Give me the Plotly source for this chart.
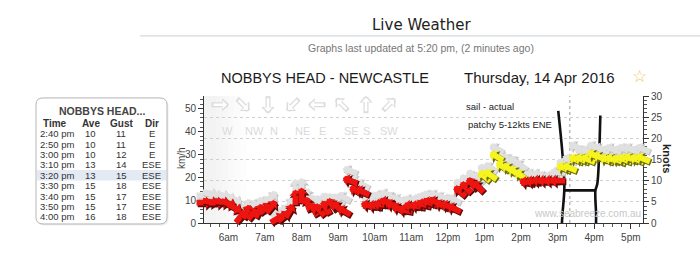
import math
import pandas as pd
import plotly.graph_objects as go

# ---------------- data ----------------
times = pd.date_range("2016-04-14 05:20", "2016-04-14 17:20", freq="10min")

avg_kts = [4.8, 5.0, 4.8, 4.9, 4.6, 3.6, 1.5, 2.6, 2.2, 2.8,
           3.4, 3.8, 1.0, 1.5, 2.8, 6.0, 6.5, 4.4, 3.2, 3.0,
           3.6, 4.3, 3.7, 2.8, 10.0, 7.6, 7.4, 4.2, 4.0, 4.4,
           5.0, 4.2, 3.4, 3.0, 4.0, 4.0, 4.4, 4.8, 5.0, 4.2,
           4.0, 3.4, 7.4, 8.3, 9.2, 8.5, 11.0, 11.3, 15.7, 13.3,
           12.8, 12.0, 11.2, 9.6, 9.8, 10.0, 10.0, 10.0, 10.0, 13.0,
           13.0, 15.0, 15.0, 15.0, 16.0, 15.5, 15.0, 15.0, 14.8, 15.0,
           15.2, 15.0, 15.2]

gust_kts = [6.5, 7.0, 6.5, 6.5, 6.0, 5.5, 3.0, 4.0, 4.0, 4.5,
            5.0, 6.0, 2.5, 3.0, 4.5, 8.5, 8.8, 6.5, 5.0, 5.0,
            5.5, 5.5, 5.5, 6.0, 12.3, 9.8, 9.0, 6.0, 6.0, 6.5,
            6.8, 6.0, 5.5, 5.0, 5.5, 5.5, 6.0, 6.5, 6.5, 6.0,
            5.5, 5.5, 9.0, 10.0, 11.0, 10.5, 12.5, 13.0, 17.5, 15.5,
            15.0, 14.5, 13.5, 11.5, 11.5, 11.5, 11.0, 11.0, 12.0, 14.0,
            15.0, 18.0, 17.0, 17.0, 18.0, 17.5, 17.0, 17.5, 17.0, 17.5,
            17.5, 17.0, 17.5]

# wind direction (degrees the wind blows FROM)
dir_from = [270, 280, 270, 280, 290, 300, 220, 210, 220, 210,
            230, 220, 240, 230, 210, 180, 180, 160, 150, 140,
            150, 140, 130, 120, 110, 120, 115, 100, 100, 95,
            100, 105, 110, 100, 95, 100, 105, 110, 110, 115,
            110, 115, 130, 135, 140, 135, 130, 125, 120, 125,
            125, 130, 125, 100, 95, 95, 90, 90, 90, 112,
            112, 112, 112, 112, 112, 112, 112, 110, 112, 112,
            110, 112, 112]

yellow_above_kts = 10.5

tick_hours = list(range(6, 18))
tick_text = ["6am", "7am", "8am", "9am", "10am", "11am", "12pm",
             "1pm", "2pm", "3pm", "4pm", "5pm"]

legend_dirs = ["W", "NW", "N", "NE", "E", "SE", "S", "SW"]
legend_from = [270, 315, 0, 45, 90, 135, 180, 225]

table_time = ["2:40 pm", "2:50 pm", "3:00 pm", "3:10 pm", "3:20 pm",
              "3:30 pm", "3:40 pm", "3:50 pm", "4:00 pm"]
table_ave = [10, 10, 10, 13, 13, 15, 15, 15, 16]
table_gust = [11, 11, 12, 14, 15, 18, 17, 17, 18]
table_dir = ["E", "E", "E", "ESE", "ESE", "ESE", "ESE", "ESE", "ESE"]
table_selected = "3:20 pm"
now_marker = "2016-04-14 15:20"

# hand-drawn "sail - actual" marks (time, knots)
mark1_t = ["15:01", "15:04", "15:08", "15:11", "15:08", "15:07"]
mark1_k = [26.5, 22.3, 16.1, 8.4, 2.3, 0.0]
mark2_t = ["16:10", "16:08", "16:05", "16:02", "16:03", "16:03"]
mark2_k = [25.4, 16.1, 9.2, 7.7, 2.3, 0.0]
mark3_t = ["15:09", "16:02"]
mark3_k = [7.7, 7.7]

KMH_PER_KT = 1.852

# ---------------- layout geometry ----------------
W, H = 700, 255
LM, RM, TM, BM = 204, 57, 96, 28
PW, PH = W - LM - RM, H - TM - BM


def px(x):
    return (x - LM) / PW


def py(y):
    return (H - BM - y) / PH


def day(hm):
    return "2016-04-14 " + hm


FONT = "Liberation Sans, Arial, sans-serif"

fig = go.Figure()

# invisible traces that bind the data to the axes
fig.add_trace(go.Scatter(x=times, y=avg_kts, mode="markers",
                         marker=dict(opacity=0), hoverinfo="skip",
                         showlegend=False, yaxis="y"))
fig.add_trace(go.Scatter(x=times, y=[v * KMH_PER_KT for v in avg_kts],
                         mode="markers", marker=dict(opacity=0),
                         hoverinfo="skip", showlegend=False, yaxis="y2"))

# hand-drawn marks
for mt, mk in ((mark1_t, mark1_k), (mark2_t, mark2_k), (mark3_t, mark3_k)):
    fig.add_trace(go.Scatter(x=[day(t) for t in mt], y=mk, mode="lines",
                             line=dict(color="#111", width=2.6,
                                       shape="spline"),
                             cliponaxis=False, hoverinfo="skip",
                             showlegend=False, yaxis="y"))

annotations = []


def arrow(x, y, to_deg, L, width, size, color, dx=0.0, dy=0.0,
          xref="x", yref="y"):
    a = math.radians(to_deg)
    s, c = math.sin(a), math.cos(a)
    return dict(x=x, y=y, xref=xref, yref=yref, text="", showarrow=True,
                arrowhead=1, arrowsize=size, arrowwidth=width,
                arrowcolor=color, ax=-L * s, ay=L * c,
                xshift=L / 2 * s + dx, yshift=L / 2 * c + dy,
                standoff=0, startstandoff=0, font=dict(size=1),
                borderpad=0)


# gust arrows (grey, behind)
for t, g, d in zip(times, gust_kts, dir_from):
    to = (d + 180) % 360
    annotations.append(arrow(t, g, to, 16, 6.4, 0.35, "#c2c2c2", 1.0, -1.0))
    annotations.append(arrow(t, g, to, 16, 5.8, 0.35, "#e0e0e0"))
# average arrows (red / yellow)
for t, v, d in zip(times, avg_kts, dir_from):
    to = (d + 180) % 360
    yellow = v > yellow_above_kts
    shadow = "#6b6b10" if yellow else "#5c0a0a"
    fill = "#f6f41e" if yellow else "#ee1410"
    annotations.append(arrow(t, v, to, 16, 6.6, 0.35, shadow, 1.2, -1.2))
    annotations.append(arrow(t, v, to, 16, 5.8, 0.35, fill))

# direction legend (outlined arrows)
leg_x = [220, 243, 268, 293, 317, 342, 366, 389]
for lx, name, d in zip(leg_x, legend_dirs, legend_from):
    to = (d + 180) % 360
    annotations.append(arrow(px(lx), py(105), to, 18, 5, 0.45, "#dcdcdc",
                             xref="paper", yref="paper"))
    annotations.append(arrow(px(lx), py(105), to, 14, 2.6, 0.55, "#ffffff",
                             xref="paper", yref="paper"))
    annotations.append(dict(x=px(lx), y=py(124), xref="paper", yref="paper",
                            text=name, showarrow=False,
                            font=dict(family=FONT, size=11, color="#dadada")))


# titles and texts
def text(x, y, s, size, color="#222", bold=False, angle=0, family=FONT,
         xanchor="center"):
    if bold:
        s = "<b>" + s + "</b>"
    return dict(x=px(x), y=py(y), xref="paper", yref="paper", text=s,
                showarrow=False, textangle=angle, xanchor=xanchor,
                yanchor="middle", font=dict(family=family, size=size,
                                            color=color))


annotations += [
    text(421, 23, "Live Weather", 15, "#222", family="DejaVu Sans, sans-serif"),
    text(421, 47, "Graphs last updated at 5:20 pm, (2 minutes ago)", 10.5,
         "#777"),
    text(325, 77, "NOBBYS HEAD - NEWCASTLE", 14.5, "#1a1a1a"),
    text(539, 77, "Thursday, 14 Apr 2016", 15, "#1a1a1a"),
    text(639, 75, "☆", 17, "#f2c66d", family="DejaVu Sans, sans-serif"),
    text(181, 160, "km/h", 10, "#444", angle=-90),
    text(667, 160, "knots", 11, "#222", bold=True, angle=90),
    text(490, 107, "sail - actual", 9.5, "#222"),
    text(510, 125, "patchy 5-12kts ENE", 9.5, "#222"),
    text(587, 217, "www.seabreeze.com.au", 10, "#c8c8c8"),
]

# table
table_x_time, table_x_ave, table_x_gust, table_x_dir = 38, 91, 121, 151.5
row_y0, row_dy = 135, 10.7
annotations.append(text(102, 111, "NOBBYS HEAD...", 10.5, "#444", bold=True))
for hx, h in zip([55, table_x_ave, table_x_gust, table_x_dir],
                 ["Time", "Ave", "Gust", "Dir"]):
    annotations.append(text(hx, 124.5, h, 10, "#333", bold=True))
for i, (tt, a, g, dd) in enumerate(zip(table_time, table_ave, table_gust,
                                       table_dir)):
    ry = row_y0 + i * row_dy
    annotations.append(text(table_x_time, ry, tt, 9.5, "#333",
                            xanchor="left"))
    annotations.append(text(table_x_ave, ry, str(a), 9.5, "#333"))
    annotations.append(text(table_x_gust, ry, str(g), 9.5, "#333"))
    annotations.append(text(table_x_dir, ry, dd, 9.5, "#333"))

shapes = []
# faint night shading at the left of the plot
for end in ["06:30", "06:20", "06:10", "06:00", "05:50", "05:40"]:
    shapes.append(dict(type="rect", xref="x", yref="paper",
                       x0=times[0], x1=day(end), y0=0, y1=1,
                       fillcolor="rgba(0,0,0,0.008)", line=dict(width=0),
                       layer="below"))
# current time marker
shapes.append(dict(type="line", xref="x", yref="paper", x0=now_marker,
                   x1=now_marker, y0=0, y1=1,
                   line=dict(color="#9a9a9a", width=1, dash="dot"),
                   layer="below"))
# rule under the page title
shapes.append(dict(type="line", xref="paper", yref="paper", x0=px(140),
                   x1=px(700), y0=py(34), y1=py(34),
                   line=dict(color="#d3dadd", width=1.2)))
# table box
bx0, bx1, by0, by1, r = 36, 167, 98, 228, 7


def rpath(x0, x1, y0, y1, r):
    X0, X1 = px(x0), px(x1)
    Y0, Y1 = py(y0), py(y1)
    rx, ry = r / PW, r / PH
    return (f"M{X0+rx},{Y0} L{X1-rx},{Y0} Q{X1},{Y0} {X1},{Y0-ry} "
            f"L{X1},{Y1+ry} Q{X1},{Y1} {X1-rx},{Y1} L{X0+rx},{Y1} "
            f"Q{X0},{Y1} {X0},{Y1+ry} L{X0},{Y0-ry} Q{X0},{Y0} {X0+rx},{Y0} Z")


shapes.append(dict(type="path", xref="paper", yref="paper",
                   path=rpath(bx0 + 1.5, bx1 + 1.5, by0 + 1.5, by1 + 1.5, r),
                   fillcolor="#eeeeee", line=dict(width=0)))
shapes.append(dict(type="path", xref="paper", yref="paper",
                   path=rpath(bx0, bx1, by0, by1, r),
                   fillcolor="white", line=dict(color="#b5b5b5", width=1)))
sel = table_time.index(table_selected)
sy = row_y0 + sel * row_dy
shapes.append(dict(type="rect", xref="paper", yref="paper", x0=px(37),
                   x1=px(166), y0=py(sy - row_dy / 2), y1=py(sy + row_dy / 2),
                   fillcolor="#e3eaf4", line=dict(width=0)))

tick_vals = [day(f"{h:02d}:00") for h in tick_hours]

fig.update_layout(
    width=W, height=H,
    margin=dict(l=LM, r=RM, t=TM, b=BM, pad=0),
    paper_bgcolor="white", plot_bgcolor="white",
    showlegend=False,
    font=dict(family=FONT, size=10, color="#333"),
    xaxis=dict(type="date", range=[times[0], times[-1]],
               tickmode="array", tickvals=tick_vals, ticktext=tick_text,
               ticks="outside", ticklen=5, tickcolor="#333",
               showline=True, linecolor="#333", linewidth=1,
               showgrid=False, zeroline=False,
               tickfont=dict(size=10, color="#444"),
               minor=dict(ticks="outside", ticklen=3, tickcolor="#555",
                          dtick=15 * 60 * 1000,
                          tick0="2016-04-14 05:00")),
    yaxis=dict(range=[0, 30], side="right", dtick=5, tick0=0,
               ticks="outside", ticklen=5, tickcolor="#333",
               showline=True, linecolor="#333", linewidth=1,
               showgrid=True, gridcolor="#cfcfcf", griddash="dot",
               gridwidth=1, zeroline=False,
               tickfont=dict(size=10, color="#444"),
               minor=dict(ticks="outside", ticklen=3, tickcolor="#555",
                          dtick=1, showgrid=False)),
    yaxis2=dict(range=[0, 30 * KMH_PER_KT], overlaying="y", side="left",
                dtick=10, tick0=0, ticks="outside", ticklen=5,
                tickcolor="#333", showline=True, linecolor="#333",
                linewidth=1, showgrid=False, zeroline=False,
                tickfont=dict(size=10, color="#444"),
                minor=dict(ticks="outside", ticklen=3, tickcolor="#555",
                           dtick=2, showgrid=False)),
    annotations=annotations,
    shapes=shapes,
)

fig.write_html("out.html")
